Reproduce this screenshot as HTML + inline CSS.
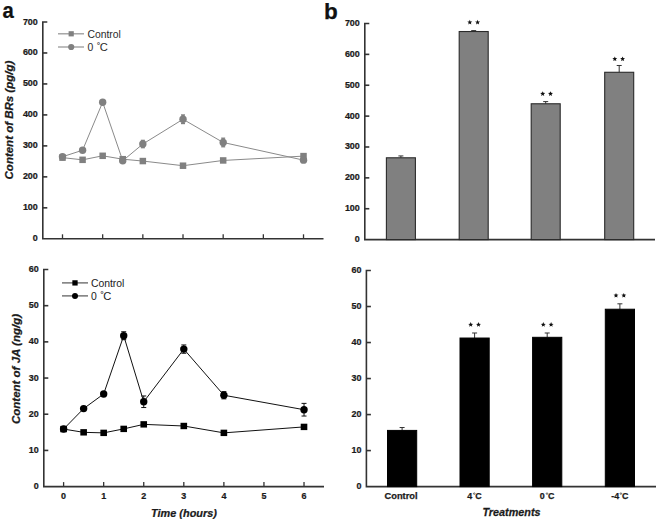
<!DOCTYPE html>
<html><head><meta charset="utf-8"><style>
html,body{margin:0;padding:0;background:#fff;width:660px;height:523px;overflow:hidden}
svg{display:block;font-family:"Liberation Sans", sans-serif}
</style></head><body>
<svg width="660" height="523" viewBox="0 0 660 523">
<rect width="660" height="523" fill="#fff"/>
<path d="M47.3,22 H42.8 V238.8 H323.5" fill="none" stroke="#333333" stroke-width="1.6" stroke-linejoin="miter"/>
<text transform="translate(37.8,241.3) scale(0.93,1)" font-size="9.6" font-weight="bold" font-style="normal" text-anchor="end" fill="#1a1a1a"  stroke="#1a1a1a" stroke-width="0.25">0</text>
<line x1="42.8" y1="207.83" x2="47.3" y2="207.83" stroke="#333333" stroke-width="1.6"/>
<text transform="translate(37.8,210.33) scale(0.93,1)" font-size="9.6" font-weight="bold" font-style="normal" text-anchor="end" fill="#1a1a1a"  stroke="#1a1a1a" stroke-width="0.25">100</text>
<line x1="42.8" y1="176.86" x2="47.3" y2="176.86" stroke="#333333" stroke-width="1.6"/>
<text transform="translate(37.8,179.36) scale(0.93,1)" font-size="9.6" font-weight="bold" font-style="normal" text-anchor="end" fill="#1a1a1a"  stroke="#1a1a1a" stroke-width="0.25">200</text>
<line x1="42.8" y1="145.89" x2="47.3" y2="145.89" stroke="#333333" stroke-width="1.6"/>
<text transform="translate(37.8,148.39) scale(0.93,1)" font-size="9.6" font-weight="bold" font-style="normal" text-anchor="end" fill="#1a1a1a"  stroke="#1a1a1a" stroke-width="0.25">300</text>
<line x1="42.8" y1="114.91" x2="47.3" y2="114.91" stroke="#333333" stroke-width="1.6"/>
<text transform="translate(37.8,117.41) scale(0.93,1)" font-size="9.6" font-weight="bold" font-style="normal" text-anchor="end" fill="#1a1a1a"  stroke="#1a1a1a" stroke-width="0.25">400</text>
<line x1="42.8" y1="83.94" x2="47.3" y2="83.94" stroke="#333333" stroke-width="1.6"/>
<text transform="translate(37.8,86.44) scale(0.93,1)" font-size="9.6" font-weight="bold" font-style="normal" text-anchor="end" fill="#1a1a1a"  stroke="#1a1a1a" stroke-width="0.25">500</text>
<line x1="42.8" y1="52.97" x2="47.3" y2="52.97" stroke="#333333" stroke-width="1.6"/>
<text transform="translate(37.8,55.47) scale(0.93,1)" font-size="9.6" font-weight="bold" font-style="normal" text-anchor="end" fill="#1a1a1a"  stroke="#1a1a1a" stroke-width="0.25">600</text>
<text transform="translate(37.8,24.5) scale(0.93,1)" font-size="9.6" font-weight="bold" font-style="normal" text-anchor="end" fill="#1a1a1a"  stroke="#1a1a1a" stroke-width="0.25">700</text>
<line x1="62.5" y1="238.8" x2="62.5" y2="234.3" stroke="#333333" stroke-width="1.3"/>
<line x1="102.67" y1="238.8" x2="102.67" y2="234.3" stroke="#333333" stroke-width="1.3"/>
<line x1="142.84" y1="238.8" x2="142.84" y2="234.3" stroke="#333333" stroke-width="1.3"/>
<line x1="183.01" y1="238.8" x2="183.01" y2="234.3" stroke="#333333" stroke-width="1.3"/>
<line x1="223.18" y1="238.8" x2="223.18" y2="234.3" stroke="#333333" stroke-width="1.3"/>
<line x1="263.35" y1="238.8" x2="263.35" y2="234.3" stroke="#333333" stroke-width="1.3"/>
<line x1="303.52" y1="238.8" x2="303.52" y2="234.3" stroke="#333333" stroke-width="1.3"/>
<polyline points="62.5,157.65 82.59,159.82 102.67,155.8 122.75,159.2 142.84,161.06 183.01,165.71 223.18,160.44 303.52,156.11" fill="none" stroke="#8a8a8a" stroke-width="1"/>
<polyline points="62.5,156.73 82.59,150.22 102.67,102.22 122.75,160.75 142.84,144.03 183.01,119.25 223.18,142.48 303.52,160.13" fill="none" stroke="#8a8a8a" stroke-width="1"/>
<line x1="140.84" y1="140.31" x2="144.84" y2="140.31" stroke="#808080" stroke-width="1.2"/>
<line x1="140.84" y1="147.74" x2="144.84" y2="147.74" stroke="#808080" stroke-width="1.2"/>
<rect x="141.34" y="140.31" width="3" height="7.43" fill="#808080"/>
<line x1="181.01" y1="114.91" x2="185.01" y2="114.91" stroke="#808080" stroke-width="1.2"/>
<line x1="181.01" y1="123.59" x2="185.01" y2="123.59" stroke="#808080" stroke-width="1.2"/>
<rect x="181.51" y="114.91" width="3" height="8.67" fill="#808080"/>
<line x1="221.18" y1="138.14" x2="225.18" y2="138.14" stroke="#808080" stroke-width="1.2"/>
<line x1="221.18" y1="146.81" x2="225.18" y2="146.81" stroke="#808080" stroke-width="1.2"/>
<rect x="221.68" y="138.14" width="3" height="8.67" fill="#808080"/>
<rect x="59.25" y="154.4" width="6.5" height="6.5" fill="#808080"/>
<rect x="79.34" y="156.57" width="6.5" height="6.5" fill="#808080"/>
<rect x="99.42" y="152.55" width="6.5" height="6.5" fill="#808080"/>
<rect x="119.5" y="155.95" width="6.5" height="6.5" fill="#808080"/>
<rect x="139.59" y="157.81" width="6.5" height="6.5" fill="#808080"/>
<rect x="179.76" y="162.46" width="6.5" height="6.5" fill="#808080"/>
<rect x="219.93" y="157.19" width="6.5" height="6.5" fill="#808080"/>
<rect x="300.27" y="152.86" width="6.5" height="6.5" fill="#808080"/>
<circle cx="62.5" cy="156.73" r="3.7" fill="#808080"/>
<circle cx="82.59" cy="150.22" r="3.7" fill="#808080"/>
<circle cx="102.67" cy="102.22" r="3.7" fill="#808080"/>
<circle cx="122.75" cy="160.75" r="3.7" fill="#808080"/>
<circle cx="142.84" cy="144.03" r="3.7" fill="#808080"/>
<circle cx="183.01" cy="119.25" r="3.7" fill="#808080"/>
<circle cx="223.18" cy="142.48" r="3.7" fill="#808080"/>
<circle cx="303.52" cy="160.13" r="3.7" fill="#808080"/>
<line x1="58" y1="33.8" x2="84" y2="33.8" stroke="#999" stroke-width="1.3"/>
<rect x="68.6" y="31.2" width="5.2" height="5.2" fill="#808080"/>
<line x1="58" y1="47" x2="84" y2="47" stroke="#999" stroke-width="1.3"/>
<circle cx="71.2" cy="47" r="3.1" fill="#808080"/>
<text x="87.4" y="37.7" font-size="10.4" font-weight="normal" font-style="normal" text-anchor="start" fill="#2a2a2a" >Control</text>
<text y="50.9" font-size="10.4" fill="#2a2a2a"><tspan x="87.4">0</tspan><tspan x="97.1">&#730;</tspan><tspan x="99.8" font-size="11.2">C</tspan></text>
<text transform="translate(12.8,120.1) rotate(-90) scale(1.065,1)" font-size="10.8" font-weight="bold" font-style="italic" text-anchor="middle" fill="#1a1a1a" stroke="#1a1a1a" stroke-width="0.25">Content of BRs (pg/g)</text>
<text transform="translate(2.6,17.6) scale(0.9,1)" font-size="22.5" font-weight="bold" font-style="normal" text-anchor="start" fill="#111"  stroke="#111" stroke-width="0.25">a</text>
<path d="M48.3,269.5 H43.8 V486.6 H324" fill="none" stroke="#333333" stroke-width="1.6" stroke-linejoin="miter"/>
<text transform="translate(38.8,489.1) scale(0.93,1)" font-size="9.6" font-weight="bold" font-style="normal" text-anchor="end" fill="#1a1a1a"  stroke="#1a1a1a" stroke-width="0.25">0</text>
<line x1="43.8" y1="450.42" x2="48.3" y2="450.42" stroke="#333333" stroke-width="1.6"/>
<text transform="translate(38.8,452.92) scale(0.93,1)" font-size="9.6" font-weight="bold" font-style="normal" text-anchor="end" fill="#1a1a1a"  stroke="#1a1a1a" stroke-width="0.25">10</text>
<line x1="43.8" y1="414.23" x2="48.3" y2="414.23" stroke="#333333" stroke-width="1.6"/>
<text transform="translate(38.8,416.73) scale(0.93,1)" font-size="9.6" font-weight="bold" font-style="normal" text-anchor="end" fill="#1a1a1a"  stroke="#1a1a1a" stroke-width="0.25">20</text>
<line x1="43.8" y1="378.05" x2="48.3" y2="378.05" stroke="#333333" stroke-width="1.6"/>
<text transform="translate(38.8,380.55) scale(0.93,1)" font-size="9.6" font-weight="bold" font-style="normal" text-anchor="end" fill="#1a1a1a"  stroke="#1a1a1a" stroke-width="0.25">30</text>
<line x1="43.8" y1="341.87" x2="48.3" y2="341.87" stroke="#333333" stroke-width="1.6"/>
<text transform="translate(38.8,344.37) scale(0.93,1)" font-size="9.6" font-weight="bold" font-style="normal" text-anchor="end" fill="#1a1a1a"  stroke="#1a1a1a" stroke-width="0.25">40</text>
<line x1="43.8" y1="305.68" x2="48.3" y2="305.68" stroke="#333333" stroke-width="1.6"/>
<text transform="translate(38.8,308.18) scale(0.93,1)" font-size="9.6" font-weight="bold" font-style="normal" text-anchor="end" fill="#1a1a1a"  stroke="#1a1a1a" stroke-width="0.25">50</text>
<text transform="translate(38.8,272) scale(0.93,1)" font-size="9.6" font-weight="bold" font-style="normal" text-anchor="end" fill="#1a1a1a"  stroke="#1a1a1a" stroke-width="0.25">60</text>
<line x1="63.6" y1="486.6" x2="63.6" y2="482.1" stroke="#333333" stroke-width="1.3"/>
<text transform="translate(63.6,498.8) scale(0.93,1)" font-size="9.6" font-weight="bold" font-style="normal" text-anchor="middle" fill="#1a1a1a"  stroke="#1a1a1a" stroke-width="0.25">0</text>
<line x1="103.67" y1="486.6" x2="103.67" y2="482.1" stroke="#333333" stroke-width="1.3"/>
<text transform="translate(103.67,498.8) scale(0.93,1)" font-size="9.6" font-weight="bold" font-style="normal" text-anchor="middle" fill="#1a1a1a"  stroke="#1a1a1a" stroke-width="0.25">1</text>
<line x1="143.74" y1="486.6" x2="143.74" y2="482.1" stroke="#333333" stroke-width="1.3"/>
<text transform="translate(143.74,498.8) scale(0.93,1)" font-size="9.6" font-weight="bold" font-style="normal" text-anchor="middle" fill="#1a1a1a"  stroke="#1a1a1a" stroke-width="0.25">2</text>
<line x1="183.81" y1="486.6" x2="183.81" y2="482.1" stroke="#333333" stroke-width="1.3"/>
<text transform="translate(183.81,498.8) scale(0.93,1)" font-size="9.6" font-weight="bold" font-style="normal" text-anchor="middle" fill="#1a1a1a"  stroke="#1a1a1a" stroke-width="0.25">3</text>
<line x1="223.88" y1="486.6" x2="223.88" y2="482.1" stroke="#333333" stroke-width="1.3"/>
<text transform="translate(223.88,498.8) scale(0.93,1)" font-size="9.6" font-weight="bold" font-style="normal" text-anchor="middle" fill="#1a1a1a"  stroke="#1a1a1a" stroke-width="0.25">4</text>
<line x1="263.95" y1="486.6" x2="263.95" y2="482.1" stroke="#333333" stroke-width="1.3"/>
<text transform="translate(263.95,498.8) scale(0.93,1)" font-size="9.6" font-weight="bold" font-style="normal" text-anchor="middle" fill="#1a1a1a"  stroke="#1a1a1a" stroke-width="0.25">5</text>
<line x1="304.02" y1="486.6" x2="304.02" y2="482.1" stroke="#333333" stroke-width="1.3"/>
<text transform="translate(304.02,498.8) scale(0.93,1)" font-size="9.6" font-weight="bold" font-style="normal" text-anchor="middle" fill="#1a1a1a"  stroke="#1a1a1a" stroke-width="0.25">6</text>
<polyline points="63.6,429.07 83.64,432.33 103.67,432.87 123.71,428.89 143.74,424.36 183.81,425.99 223.88,432.87 304.02,426.9" fill="none" stroke="#111" stroke-width="1"/>
<polyline points="63.6,429.07 83.64,408.62 103.67,393.97 123.71,335.72 143.74,401.75 183.81,349.1 223.88,395.24 304.02,409.71" fill="none" stroke="#111" stroke-width="1"/>
<line x1="123.71" y1="331.74" x2="123.71" y2="339.7" stroke="#111" stroke-width="1"/>
<line x1="121.21" y1="331.74" x2="126.21" y2="331.74" stroke="#111" stroke-width="1"/>
<line x1="121.21" y1="339.7" x2="126.21" y2="339.7" stroke="#111" stroke-width="1"/>
<line x1="143.74" y1="395.96" x2="143.74" y2="407.54" stroke="#111" stroke-width="1"/>
<line x1="141.24" y1="395.96" x2="146.24" y2="395.96" stroke="#111" stroke-width="1"/>
<line x1="141.24" y1="407.54" x2="146.24" y2="407.54" stroke="#111" stroke-width="1"/>
<line x1="183.81" y1="344.94" x2="183.81" y2="353.26" stroke="#111" stroke-width="1"/>
<line x1="181.31" y1="344.94" x2="186.31" y2="344.94" stroke="#111" stroke-width="1"/>
<line x1="181.31" y1="353.26" x2="186.31" y2="353.26" stroke="#111" stroke-width="1"/>
<line x1="223.88" y1="391.62" x2="223.88" y2="398.86" stroke="#111" stroke-width="1"/>
<line x1="221.38" y1="391.62" x2="226.38" y2="391.62" stroke="#111" stroke-width="1"/>
<line x1="221.38" y1="398.86" x2="226.38" y2="398.86" stroke="#111" stroke-width="1"/>
<line x1="304.02" y1="403.38" x2="304.02" y2="416.04" stroke="#111" stroke-width="1"/>
<line x1="301.52" y1="403.38" x2="306.52" y2="403.38" stroke="#111" stroke-width="1"/>
<line x1="301.52" y1="416.04" x2="306.52" y2="416.04" stroke="#111" stroke-width="1"/>
<rect x="181.21" y="423.64" width="5.2" height="4.7" fill="#000"/>
<rect x="301.42" y="424.91" width="5.2" height="3.98" fill="#000"/>
<rect x="60.3" y="425.87" width="6.6" height="6.4" fill="#000"/>
<rect x="80.34" y="429.13" width="6.6" height="6.4" fill="#000"/>
<rect x="100.37" y="429.67" width="6.6" height="6.4" fill="#000"/>
<rect x="120.41" y="425.69" width="6.6" height="6.4" fill="#000"/>
<rect x="140.44" y="421.16" width="6.6" height="6.4" fill="#000"/>
<rect x="180.51" y="422.79" width="6.6" height="6.4" fill="#000"/>
<rect x="220.58" y="429.67" width="6.6" height="6.4" fill="#000"/>
<rect x="300.72" y="423.7" width="6.6" height="6.4" fill="#000"/>
<circle cx="63.6" cy="429.07" r="3.7" fill="#000"/>
<circle cx="83.64" cy="408.62" r="3.7" fill="#000"/>
<circle cx="103.67" cy="393.97" r="3.7" fill="#000"/>
<circle cx="123.71" cy="335.72" r="3.7" fill="#000"/>
<circle cx="143.74" cy="401.75" r="3.7" fill="#000"/>
<circle cx="183.81" cy="349.1" r="3.7" fill="#000"/>
<circle cx="223.88" cy="395.24" r="3.7" fill="#000"/>
<circle cx="304.02" cy="409.71" r="3.7" fill="#000"/>
<line x1="62" y1="282.9" x2="88" y2="282.9" stroke="#555" stroke-width="1.2"/>
<rect x="72.35" y="280.25" width="5.3" height="5.3" fill="#000"/>
<line x1="62" y1="295.9" x2="88" y2="295.9" stroke="#555" stroke-width="1.2"/>
<circle cx="75.0" cy="295.9" r="3.0" fill="#000"/>
<text x="90.9" y="286.8" font-size="10.4" font-weight="normal" font-style="normal" text-anchor="start" fill="#1a1a1a" >Control</text>
<text y="299.6" font-size="10.4" fill="#1a1a1a"><tspan x="90.9">0</tspan><tspan x="100.6">&#730;</tspan><tspan x="103.3" font-size="11.2">C</tspan></text>
<text transform="translate(20.1,369.0) rotate(-90) scale(1.065,1)" font-size="10.8" font-weight="bold" font-style="italic" text-anchor="middle" fill="#1a1a1a" stroke="#1a1a1a" stroke-width="0.25">Content of JA (ng/g)</text>
<text transform="translate(184,517.2) scale(0.94,1)" font-size="11.6" font-weight="bold" font-style="italic" text-anchor="middle" fill="#1a1a1a"  stroke="#1a1a1a" stroke-width="0.25">Time (hours)</text>
<path d="M369.3,23.5 H364.8 V239.6 H655" fill="none" stroke="#333333" stroke-width="1.6" stroke-linejoin="miter"/>
<text transform="translate(359.8,242.1) scale(0.93,1)" font-size="9.6" font-weight="bold" font-style="normal" text-anchor="end" fill="#1a1a1a"  stroke="#1a1a1a" stroke-width="0.25">0</text>
<line x1="364.8" y1="208.73" x2="369.3" y2="208.73" stroke="#333333" stroke-width="1.6"/>
<text transform="translate(359.8,211.23) scale(0.93,1)" font-size="9.6" font-weight="bold" font-style="normal" text-anchor="end" fill="#1a1a1a"  stroke="#1a1a1a" stroke-width="0.25">100</text>
<line x1="364.8" y1="177.86" x2="369.3" y2="177.86" stroke="#333333" stroke-width="1.6"/>
<text transform="translate(359.8,180.36) scale(0.93,1)" font-size="9.6" font-weight="bold" font-style="normal" text-anchor="end" fill="#1a1a1a"  stroke="#1a1a1a" stroke-width="0.25">200</text>
<line x1="364.8" y1="146.99" x2="369.3" y2="146.99" stroke="#333333" stroke-width="1.6"/>
<text transform="translate(359.8,149.49) scale(0.93,1)" font-size="9.6" font-weight="bold" font-style="normal" text-anchor="end" fill="#1a1a1a"  stroke="#1a1a1a" stroke-width="0.25">300</text>
<line x1="364.8" y1="116.11" x2="369.3" y2="116.11" stroke="#333333" stroke-width="1.6"/>
<text transform="translate(359.8,118.61) scale(0.93,1)" font-size="9.6" font-weight="bold" font-style="normal" text-anchor="end" fill="#1a1a1a"  stroke="#1a1a1a" stroke-width="0.25">400</text>
<line x1="364.8" y1="85.24" x2="369.3" y2="85.24" stroke="#333333" stroke-width="1.6"/>
<text transform="translate(359.8,87.74) scale(0.93,1)" font-size="9.6" font-weight="bold" font-style="normal" text-anchor="end" fill="#1a1a1a"  stroke="#1a1a1a" stroke-width="0.25">500</text>
<line x1="364.8" y1="54.37" x2="369.3" y2="54.37" stroke="#333333" stroke-width="1.6"/>
<text transform="translate(359.8,56.87) scale(0.93,1)" font-size="9.6" font-weight="bold" font-style="normal" text-anchor="end" fill="#1a1a1a"  stroke="#1a1a1a" stroke-width="0.25">600</text>
<text transform="translate(359.8,26) scale(0.93,1)" font-size="9.6" font-weight="bold" font-style="normal" text-anchor="end" fill="#1a1a1a"  stroke="#1a1a1a" stroke-width="0.25">700</text>
<line x1="400.9" y1="157.79" x2="400.9" y2="155.94" stroke="#333333" stroke-width="1"/>
<line x1="398.4" y1="155.94" x2="403.4" y2="155.94" stroke="#333333" stroke-width="1"/>
<rect x="386.4" y="157.79" width="29" height="81.81" fill="#808080" stroke="#2a2a2a" stroke-width="1.1"/>
<line x1="473.7" y1="31.53" x2="473.7" y2="30.6" stroke="#333333" stroke-width="1"/>
<line x1="471.2" y1="30.6" x2="476.2" y2="30.6" stroke="#333333" stroke-width="1"/>
<rect x="459.2" y="31.53" width="29" height="208.07" fill="#808080" stroke="#2a2a2a" stroke-width="1.1"/>
<line x1="545.7" y1="103.77" x2="545.7" y2="101.6" stroke="#333333" stroke-width="1"/>
<line x1="543.2" y1="101.6" x2="548.2" y2="101.6" stroke="#333333" stroke-width="1"/>
<rect x="531.2" y="103.77" width="29" height="135.83" fill="#808080" stroke="#2a2a2a" stroke-width="1.1"/>
<line x1="619.2" y1="72.28" x2="619.2" y2="65.49" stroke="#333333" stroke-width="1"/>
<line x1="616.7" y1="65.49" x2="621.7" y2="65.49" stroke="#333333" stroke-width="1"/>
<rect x="604.7" y="72.28" width="29" height="167.32" fill="#808080" stroke="#2a2a2a" stroke-width="1.1"/>
<polygon points="469.8,19.8 470.48,21.47 472.27,21.6 470.89,22.76 471.33,24.5 469.8,23.55 468.27,24.5 468.71,22.76 467.33,21.6 469.12,21.47" fill="#111"/>
<polygon points="477.6,19.8 478.28,21.47 480.07,21.6 478.69,22.76 479.13,24.5 477.6,23.55 476.07,24.5 476.51,22.76 475.13,21.6 476.92,21.47" fill="#111"/>
<polygon points="542.7,91.2 543.38,92.87 545.17,93 543.79,94.16 544.23,95.9 542.7,94.95 541.17,95.9 541.61,94.16 540.23,93 542.02,92.87" fill="#111"/>
<polygon points="550.5,91.2 551.18,92.87 552.97,93 551.59,94.16 552.03,95.9 550.5,94.95 548.97,95.9 549.41,94.16 548.03,93 549.82,92.87" fill="#111"/>
<polygon points="614.8,56.4 615.48,58.07 617.27,58.2 615.89,59.36 616.33,61.1 614.8,60.15 613.27,61.1 613.71,59.36 612.33,58.2 614.12,58.07" fill="#111"/>
<polygon points="622.6,56.4 623.28,58.07 625.07,58.2 623.69,59.36 624.13,61.1 622.6,60.15 621.07,61.1 621.51,59.36 620.13,58.2 621.92,58.07" fill="#111"/>
<text x="324.1" y="18.5" font-size="22.5" font-weight="bold" font-style="normal" text-anchor="start" fill="#111"  stroke="#111" stroke-width="0.25">b</text>
<path d="M370.9,270.5 H366.4 V486.6 H656" fill="none" stroke="#333333" stroke-width="1.6" stroke-linejoin="miter"/>
<text transform="translate(361.4,489.1) scale(0.93,1)" font-size="9.6" font-weight="bold" font-style="normal" text-anchor="end" fill="#1a1a1a"  stroke="#1a1a1a" stroke-width="0.25">0</text>
<line x1="366.4" y1="450.58" x2="370.9" y2="450.58" stroke="#333333" stroke-width="1.6"/>
<text transform="translate(361.4,453.08) scale(0.93,1)" font-size="9.6" font-weight="bold" font-style="normal" text-anchor="end" fill="#1a1a1a"  stroke="#1a1a1a" stroke-width="0.25">10</text>
<line x1="366.4" y1="414.57" x2="370.9" y2="414.57" stroke="#333333" stroke-width="1.6"/>
<text transform="translate(361.4,417.07) scale(0.93,1)" font-size="9.6" font-weight="bold" font-style="normal" text-anchor="end" fill="#1a1a1a"  stroke="#1a1a1a" stroke-width="0.25">20</text>
<line x1="366.4" y1="378.55" x2="370.9" y2="378.55" stroke="#333333" stroke-width="1.6"/>
<text transform="translate(361.4,381.05) scale(0.93,1)" font-size="9.6" font-weight="bold" font-style="normal" text-anchor="end" fill="#1a1a1a"  stroke="#1a1a1a" stroke-width="0.25">30</text>
<line x1="366.4" y1="342.53" x2="370.9" y2="342.53" stroke="#333333" stroke-width="1.6"/>
<text transform="translate(361.4,345.03) scale(0.93,1)" font-size="9.6" font-weight="bold" font-style="normal" text-anchor="end" fill="#1a1a1a"  stroke="#1a1a1a" stroke-width="0.25">40</text>
<line x1="366.4" y1="306.52" x2="370.9" y2="306.52" stroke="#333333" stroke-width="1.6"/>
<text transform="translate(361.4,309.02) scale(0.93,1)" font-size="9.6" font-weight="bold" font-style="normal" text-anchor="end" fill="#1a1a1a"  stroke="#1a1a1a" stroke-width="0.25">50</text>
<text transform="translate(361.4,273) scale(0.93,1)" font-size="9.6" font-weight="bold" font-style="normal" text-anchor="end" fill="#1a1a1a"  stroke="#1a1a1a" stroke-width="0.25">60</text>
<text x="401.05" y="498.8" font-size="9.3" font-weight="bold" font-style="normal" text-anchor="middle" fill="#1a1a1a"  stroke="#1a1a1a" stroke-width="0.25">Control</text>
<text y="498.5" font-size="8.9" font-weight="bold" fill="#1a1a1a" stroke="#1a1a1a" stroke-width="0.25"><tspan x="467.3">4</tspan><tspan x="475.3">C</tspan></text>
<circle cx="474.25" cy="493.6" r="0.8" fill="none" stroke="#333" stroke-width="0.7"/>
<text y="498.5" font-size="8.9" font-weight="bold" fill="#1a1a1a" stroke="#1a1a1a" stroke-width="0.25"><tspan x="539.8">0</tspan><tspan x="548">C</tspan></text>
<circle cx="547" cy="493.6" r="0.8" fill="none" stroke="#333" stroke-width="0.7"/>
<text y="498.5" font-size="8.9" font-weight="bold" fill="#1a1a1a" stroke="#1a1a1a" stroke-width="0.25"><tspan x="611.2">-4</tspan><tspan x="622.1">C</tspan></text>
<circle cx="620.9" cy="493.6" r="0.8" fill="none" stroke="#333" stroke-width="0.7"/>
<line x1="402.1" y1="430.41" x2="402.1" y2="427.53" stroke="#333333" stroke-width="1"/>
<line x1="399.6" y1="427.53" x2="404.6" y2="427.53" stroke="#333333" stroke-width="1"/>
<rect x="387.5" y="430.41" width="29.2" height="56.19" fill="#000" stroke="#000" stroke-width="1"/>
<line x1="474.6" y1="338.03" x2="474.6" y2="332.99" stroke="#333333" stroke-width="1"/>
<line x1="472.1" y1="332.99" x2="477.1" y2="332.99" stroke="#333333" stroke-width="1"/>
<rect x="460" y="338.03" width="29.2" height="148.57" fill="#000" stroke="#000" stroke-width="1"/>
<line x1="547.2" y1="337.31" x2="547.2" y2="332.99" stroke="#333333" stroke-width="1"/>
<line x1="544.7" y1="332.99" x2="549.7" y2="332.99" stroke="#333333" stroke-width="1"/>
<rect x="532.6" y="337.31" width="29.2" height="149.29" fill="#000" stroke="#000" stroke-width="1"/>
<line x1="619.9" y1="309.22" x2="619.9" y2="303.82" stroke="#333333" stroke-width="1"/>
<line x1="617.4" y1="303.82" x2="622.4" y2="303.82" stroke="#333333" stroke-width="1"/>
<rect x="605.3" y="309.22" width="29.2" height="177.38" fill="#000" stroke="#000" stroke-width="1"/>
<polygon points="470.7,322.1 471.38,323.77 473.17,323.9 471.79,325.06 472.23,326.8 470.7,325.85 469.17,326.8 469.61,325.06 468.23,323.9 470.02,323.77" fill="#111"/>
<polygon points="478.5,322.1 479.18,323.77 480.97,323.9 479.59,325.06 480.03,326.8 478.5,325.85 476.97,326.8 477.41,325.06 476.03,323.9 477.82,323.77" fill="#111"/>
<polygon points="543.3,322.1 543.98,323.77 545.77,323.9 544.39,325.06 544.83,326.8 543.3,325.85 541.77,326.8 542.21,325.06 540.83,323.9 542.62,323.77" fill="#111"/>
<polygon points="551.1,322.1 551.78,323.77 553.57,323.9 552.19,325.06 552.63,326.8 551.1,325.85 549.57,326.8 550.01,325.06 548.63,323.9 550.42,323.77" fill="#111"/>
<polygon points="616,292.9 616.68,294.57 618.47,294.7 617.09,295.86 617.53,297.6 616,296.65 614.47,297.6 614.91,295.86 613.53,294.7 615.32,294.57" fill="#111"/>
<polygon points="623.8,292.9 624.48,294.57 626.27,294.7 624.89,295.86 625.33,297.6 623.8,296.65 622.27,297.6 622.71,295.86 621.33,294.7 623.12,294.57" fill="#111"/>
<text transform="translate(511.5,516.4) scale(0.935,1)" font-size="11.6" font-weight="bold" font-style="italic" text-anchor="middle" fill="#1a1a1a"  stroke="#1a1a1a" stroke-width="0.25">Treatments</text>
</svg></body></html>
